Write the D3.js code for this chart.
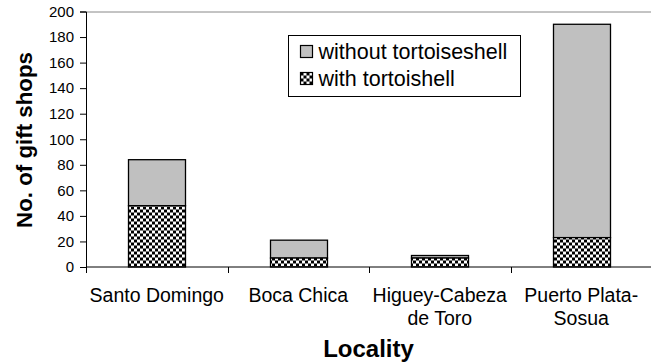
<!DOCTYPE html>
<html>
<head>
<meta charset="utf-8">
<script src="https://cdn.jsdelivr.net/npm/d3@7"></script>
<style>
  html, body { margin: 0; padding: 0; background: #fff; }
  svg { display: block; font-family: "Liberation Sans", Arial, sans-serif; }
</style>
</head>
<body>
<svg id="chart" width="651" height="364"></svg>
<script>
// Gift shops by locality, split by whether they sell tortoiseshell items
const localities = [["Santo Domingo"], ["Boca Chica"], ["Higuey-Cabeza", "de Toro"], ["Puerto Plata-", "Sosua"]];
const withTortoiseshell = [48, 7, 7, 23];
const withoutTortoiseshell = [36, 14, 2, 167];
const yTicks = [0, 20, 40, 60, 80, 100, 120, 140, 160, 180, 200];
const legendLabels = ["without tortoiseshell", "with tortoishell"];

const svg = d3.select("#chart");
const margin = { left: 86, right: 0, top: 11.5, bottom: 97 };
const W = 651, H = 364;
const plotW = W - margin.left - margin.right + 1;
const plotH = H - margin.top - margin.bottom;

// checkerboard fill for the "with" series
const defs = svg.append("defs");
const pat = defs.append("pattern")
  .attr("id", "checker")
  .attr("patternUnits", "userSpaceOnUse")
  .attr("width", 6).attr("height", 6);
pat.append("rect").attr("width", 6).attr("height", 6).attr("fill", "#fff");
pat.append("rect").attr("x", 0).attr("y", 0).attr("width", 3).attr("height", 3).attr("fill", "#000");
pat.append("rect").attr("x", 3).attr("y", 3).attr("width", 3).attr("height", 3).attr("fill", "#000");

const g = svg.append("g").attr("transform", `translate(${margin.left},${margin.top})`);

const idx = localities.map((d, i) => i);
const x = d3.scaleBand().domain(idx).range([0, plotW]).padding(0);
const y = d3.scaleLinear().domain([0, 200]).range([plotH, 0]);

// frame top line
g.append("line")
  .attr("x1", 0).attr("x2", plotW).attr("y1", 0.5).attr("y2", 0.5)
  .attr("stroke", "#888").attr("stroke-width", 1);

// stacked bars
const barW = x.bandwidth() * 0.4;
const stacks = idx.map(i => ({
  i,
  lo: withTortoiseshell[i],
  hi: withTortoiseshell[i] + withoutTortoiseshell[i]
}));

g.selectAll("rect.without").data(stacks).join("rect")
  .attr("class", "without")
  .attr("x", d => Math.round(x(d.i) + (x.bandwidth() - barW) / 2) + 0.5)
  .attr("width", Math.round(barW))
  .attr("y", d => y(d.hi))
  .attr("height", d => y(d.lo) - y(d.hi))
  .attr("fill", "#c0c0c0").attr("stroke", "#000").attr("stroke-width", 1.3);

g.selectAll("rect.with").data(stacks).join("rect")
  .attr("class", "with")
  .attr("x", d => Math.round(x(d.i) + (x.bandwidth() - barW) / 2) + 0.5)
  .attr("width", Math.round(barW))
  .attr("y", d => y(d.lo))
  .attr("height", d => y(0) - y(d.lo))
  .attr("fill", "url(#checker)").attr("stroke", "#000").attr("stroke-width", 1.3);

// y axis
const yAxis = g.append("g")
  .call(d3.axisLeft(y).tickValues(yTicks).tickSize(6).tickPadding(6));
yAxis.select(".domain").attr("stroke", "#000");
yAxis.selectAll(".tick line").attr("stroke", "#000");
yAxis.selectAll("text").attr("font-size", 15).attr("fill", "#000")
  .attr("font-family", "Liberation Sans, Arial, sans-serif");

// x axis with ticks at category boundaries
const xb = g.append("g").attr("transform", `translate(0,${plotH})`);
xb.append("line").attr("x1", 0).attr("x2", plotW).attr("stroke", "#000");
const edges = idx.map(i => x(i)).concat([plotW]);
xb.selectAll("line.tk").data(edges).join("line")
  .attr("class", "tk")
  .attr("x1", d => Math.round(d) + 0.5).attr("x2", d => Math.round(d) + 0.5)
  .attr("y1", 0).attr("y2", 6).attr("stroke", "#000");

// category labels
const lab = xb.selectAll("text.cat").data(idx).join("text")
  .attr("class", "cat")
  .attr("text-anchor", "middle")
  .attr("font-size", 19.5)
  .attr("fill", "#000")
  .attr("transform", i => `translate(${x(i) + x.bandwidth() / 2},${35})`);
lab.selectAll("tspan").data(i => localities[i]).join("tspan")
  .attr("x", 0).attr("dy", (d, k) => k === 0 ? 0 : 23)
  .text(d => d);

// axis titles
svg.append("text")
  .attr("x", (margin.left + W) / 2).attr("y", 357)
  .attr("text-anchor", "middle")
  .attr("font-size", 24).attr("font-weight", "bold")
  .text("Locality");

svg.append("text")
  .attr("transform", `translate(32,${140}) rotate(-90)`)
  .attr("text-anchor", "middle")
  .attr("font-size", 22.3).attr("font-weight", "bold")
  .text("No. of gift shops");

// legend
const leg = svg.append("g").attr("transform", "translate(288.5,35.5)");
leg.append("rect").attr("width", 232).attr("height", 61)
  .attr("fill", "#fff").attr("stroke", "#000").attr("stroke-width", 1);
const fills = ["#c0c0c0", "url(#checker)"];
const rows = leg.selectAll("g.row").data(legendLabels).join("g")
  .attr("class", "row")
  .attr("transform", (d, k) => `translate(12,${16 + k * 27})`);
rows.append("rect").attr("x", 0).attr("y", -6).attr("width", 12).attr("height", 12)
  .attr("fill", (d, k) => fills[k]).attr("stroke", "#000").attr("stroke-width", 1.2);
rows.append("text").attr("x", 18).attr("y", 7)
  .attr("font-size", 21.5).attr("fill", "#000")
  .text(d => d);
</script>
</body>
</html>
